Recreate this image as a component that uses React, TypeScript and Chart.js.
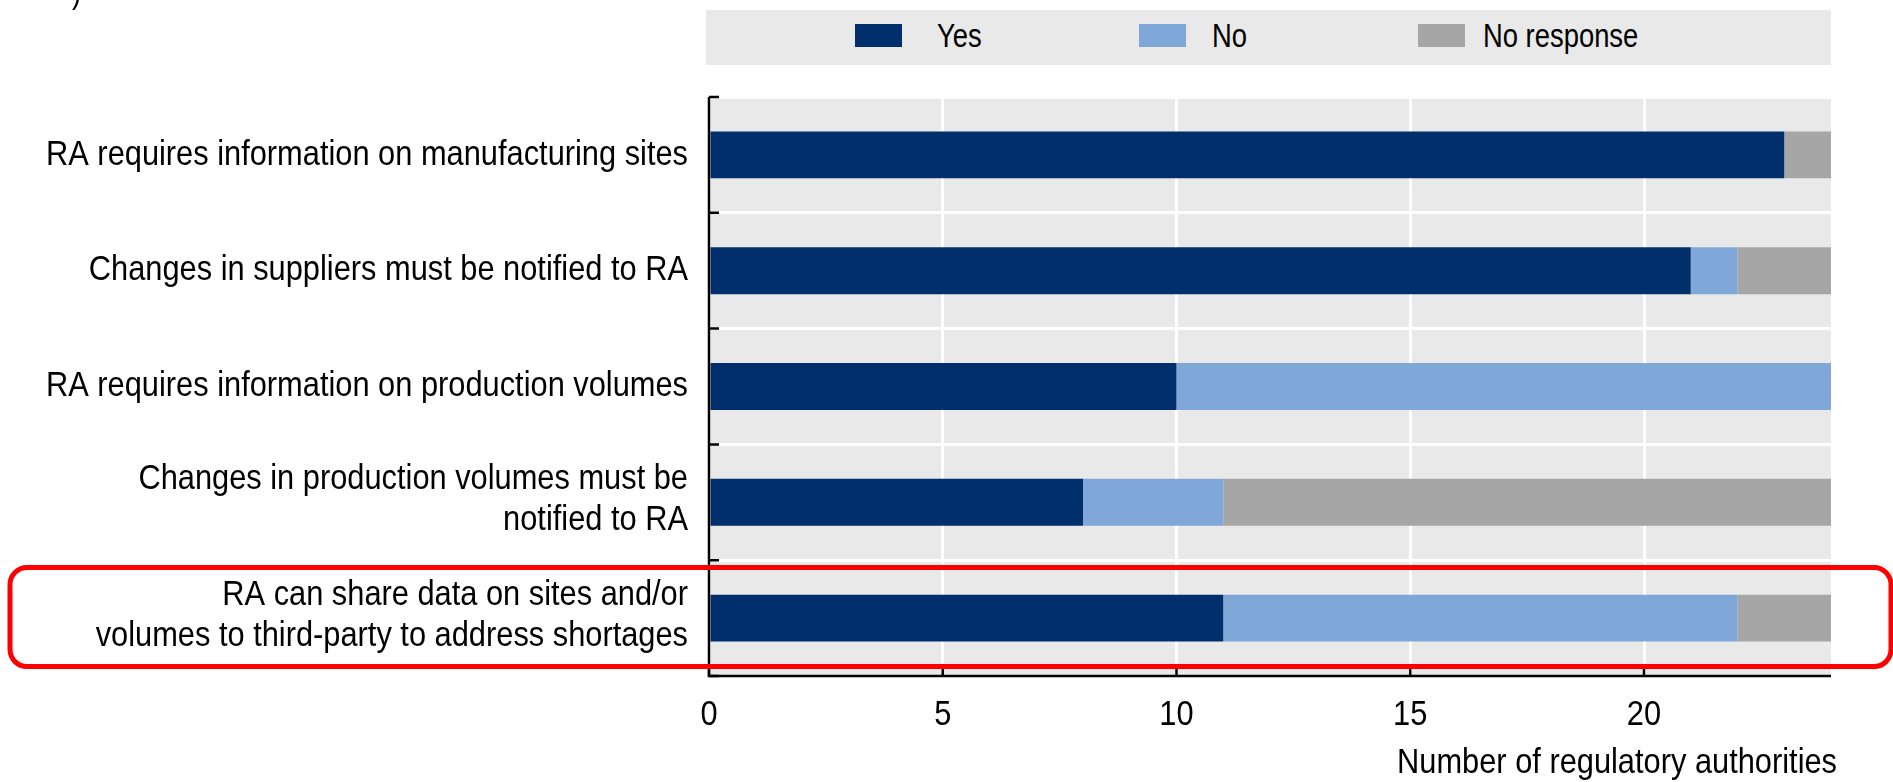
import React, { useEffect, useRef } from "react";
import { Chart, registerables } from "chart.js";

Chart.register(...registerables);

// ---- data ----
const categories: (string | string[])[] = [
  "RA requires information on manufacturing sites",
  "Changes in suppliers must be notified to RA",
  "RA requires information on production volumes",
  ["Changes in production volumes must be", "notified to RA"],
  ["RA can share data on sites and/or", "volumes to third-party to address shortages"],
];
const seriesNames = ["Yes", "No", "No response"];
const yesValues = [23, 21, 10, 8, 11];
const noValues = [0, 1, 14, 3, 11];
const noResponseValues = [1, 2, 0, 13, 2];
const xTickValues = [0, 5, 10, 15, 20];
const xMax = 24;
const xAxisTitle = "Number of regulatory authorities";
const highlightedIndex = 4;

// ---- styles ----
const COLORS = ["#002F6C", "#7FA8D9", "#A6A6A6"];
const FONT = "'Liberation Sans', Arial, sans-serif";
const AX_FS = 35; // axis text size
const AX_SX = 0.88; // horizontal condensing (narrow face emulation)
const LEG_FS = 33;
const LEG_SX = 0.83;
const LINE_H = 41;
const W = 1893;
const H = 782;
const LEGEND_BOX_OFFSETS = [149, 433, 712];
const LEGEND_TEXT_OFFSETS = [231, 506, 777];

const bgPlugin = {
  id: "plotBg",
  beforeDraw(chart: any) {
    const { ctx, chartArea: a } = chart;
    ctx.save();
    ctx.fillStyle = "#E9E9E9";
    ctx.fillRect(a.left, a.top, a.right - a.left, a.bottom - a.top);
    ctx.restore();
  },
};

const textPlugin = {
  id: "axisTexts",
  afterDraw(chart: any) {
    const { ctx, chartArea: a } = chart;
    const xs = chart.scales.x;
    const ys = chart.scales.y;
    ctx.save();
    ctx.fillStyle = "#000";
    ctx.font = `${AX_FS}px ${FONT}`;
    ctx.textBaseline = "middle";
    const draw = (t: string, x: number, y: number, align: CanvasTextAlign) => {
      ctx.save();
      ctx.translate(x, y);
      ctx.scale(AX_SX, 1);
      ctx.textAlign = align;
      ctx.fillText(t, 0, 0);
      ctx.restore();
    };
    categories.forEach((lab, i) => {
      const lines = Array.isArray(lab) ? lab : [lab];
      const c = ys.getPixelForValue(i) - (lines.length > 1 ? 2 : 0);
      lines.forEach((ln, j) => draw(ln, a.left - 21, c + (j - (lines.length - 1) / 2) * LINE_H, "right"));
    });
    xTickValues.forEach((v) => draw(String(v), xs.getPixelForValue(v), a.bottom + 39, "center"));
    draw(xAxisTitle, a.right + 6, a.bottom + 87, "right");
    ctx.restore();
  },
};

const axesPlugin = {
  id: "axesAndHighlight",
  afterDraw(chart: any) {
    const { ctx, chartArea: a } = chart;
    const xs = chart.scales.x;
    const ys = chart.scales.y;
    ctx.save();
    ctx.strokeStyle = "#000";
    ctx.lineWidth = 2.5;
    ctx.beginPath();
    ctx.moveTo(a.left, a.top);
    ctx.lineTo(a.left, a.bottom);
    ctx.lineTo(a.right, a.bottom);
    ctx.stroke();
    const band = (ys.bottom - ys.top) / categories.length;
    ctx.beginPath();
    for (let i = 0; i <= categories.length; i++) {
      const y = ys.top + i * band;
      ctx.moveTo(a.left, y);
      ctx.lineTo(a.left + 10, y);
    }
    xTickValues.forEach((v) => {
      const x = xs.getPixelForValue(v);
      ctx.moveTo(x, a.bottom);
      ctx.lineTo(x, a.bottom - 10);
    });
    ctx.stroke();

    // highlight box
    const c = ys.getPixelForValue(highlightedIndex);
    const h = band * 0.855;
    ctx.strokeStyle = "#FF0000";
    ctx.lineWidth = 5;
    ctx.beginPath();
    (ctx as any).roundRect(10, c - h / 2 - 1, chart.width - 12, h, 17);
    ctx.stroke();
    ctx.restore();
  },
};

export default function App() {
  const ref = useRef<HTMLCanvasElement | null>(null);

  useEffect(() => {
    if (!ref.current) return;
    const values = [yesValues, noValues, noResponseValues];
    const chart = new Chart(ref.current, {
      type: "bar",
      data: {
        labels: categories as any,
        datasets: seriesNames.map((name, i) => ({
          label: name,
          data: values[i],
          backgroundColor: COLORS[i],
          borderWidth: 0,
          categoryPercentage: 1,
          barPercentage: 0.405,
        })),
      },
      options: {
        indexAxis: "y",
        animation: false,
        responsive: false,
        layout: { padding: { top: 97, right: 62, bottom: 0, left: 0 } },
        plugins: {
          legend: { display: false },
          tooltip: { enabled: false },
        },
        scales: {
          x: {
            stacked: true,
            min: 0,
            max: xMax,
            afterBuildTicks: (s: any) => {
              s.ticks = xTickValues.map((v) => ({ value: v }));
            },
            ticks: { display: false },
            grid: { color: "#FFFFFF", lineWidth: 3, drawTicks: false },
            border: { display: false },
            title: { display: false, text: xAxisTitle },
            afterFit: (s: any) => {
              s.height = 106;
            },
          },
          y: {
            stacked: true,
            ticks: { display: false },
            grid: { color: "#FFFFFF", lineWidth: 3, drawTicks: false, offset: true },
            border: { display: false },
            afterFit: (s: any) => {
              s.width = 709;
            },
          },
        },
      } as any,
      plugins: [bgPlugin, textPlugin, axesPlugin],
    });
    return () => chart.destroy();
  }, []);

  return (
    <div style={{ position: "absolute", left: 0, top: 0, width: W, height: H, overflow: "hidden", background: "#fff" }}>
      <canvas ref={ref} width={W} height={H} style={{ display: "block", position: "absolute", left: 0, top: 0 }} />
      <div
        style={{
          position: "absolute",
          left: 72,
          top: -25,
          fontFamily: FONT,
          fontSize: LEG_FS,
          lineHeight: "33px",
          color: "#000",
          transform: `scaleX(${LEG_SX})`,
          transformOrigin: "left center",
        }}
      >
        )
      </div>
      <div
        style={{
          position: "absolute",
          left: 706,
          top: 10,
          width: 1125,
          height: 55,
          background: "#E9E9E9",
          fontFamily: FONT,
          fontSize: LEG_FS,
          color: "#000",
        }}
      >
        {seriesNames.map((name, i) => (
          <React.Fragment key={name}>
            <span
              style={{
                position: "absolute",
                left: LEGEND_BOX_OFFSETS[i],
                top: 14,
                width: 47,
                height: 23,
                background: COLORS[i],
              }}
            />
            <span
              style={{
                position: "absolute",
                left: LEGEND_TEXT_OFFSETS[i],
                top: 6,
                lineHeight: "40px",
                whiteSpace: "nowrap",
                transform: `scaleX(${LEG_SX})`,
                transformOrigin: "left center",
              }}
            >
              {name}
            </span>
          </React.Fragment>
        ))}
      </div>
    </div>
  );
}
